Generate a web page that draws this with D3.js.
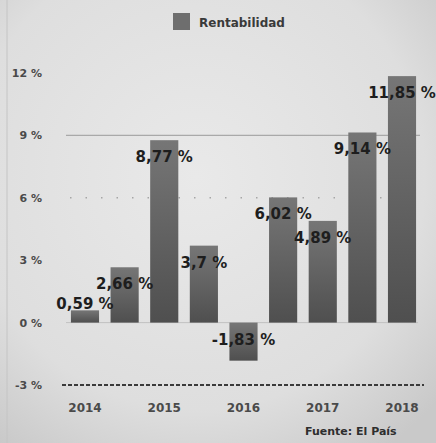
<!DOCTYPE html>
<html>
<head>
<meta charset="utf-8">
<script src="https://d3js.org/d3.v7.min.js"></script>
<style>
  body { margin: 0; background: #dedede; }
  text { font-family: "DejaVu Sans", sans-serif; }
</style>
</head>
<body>
<div id="chart"></div>
<script>

var periods = ["2014", "2014b", "2015", "2015b", "2016", "2016b", "2017", "2017b", "2018"];
var tickLabels = ["2014", "2015", "2016", "2017", "2018"];
var rentabilidad = [0.59, 2.66, 8.77, 3.7, -1.83, 6.02, 4.89, 9.14, 11.85];
var yTicks = [-3, 0, 3, 6, 9, 12];

var width = 436, height = 443;

var svg = d3.select("#chart")
  .append("svg")
    .attr("width", width)
    .attr("height", height);

var defs = svg.append("defs");
var bg = defs.append("radialGradient").attr("id", "bg")
  .attr("cx", "45%").attr("cy", "40%").attr("r", "75%");
bg.append("stop").attr("offset", "0%").attr("stop-color", "#e9e9e9");
bg.append("stop").attr("offset", "70%").attr("stop-color", "#dedede");
bg.append("stop").attr("offset", "100%").attr("stop-color", "#c9c9c9");

var barGrad = defs.append("linearGradient").attr("id", "bar")
  .attr("x1", 0).attr("y1", 0).attr("x2", 0).attr("y2", 1);
barGrad.append("stop").attr("offset", "0%").attr("stop-color", "#767676");
barGrad.append("stop").attr("offset", "100%").attr("stop-color", "#4f4f4f");

svg.append("rect")
  .attr("width", width).attr("height", height)
  .attr("fill", "url(#bg)");

// faint page edge on the left
svg.append("line")
  .attr("x1", 7).attr("x2", 7).attr("y1", 0).attr("y2", height)
  .attr("stroke", "#c4c4c4").attr("stroke-width", 1);

var x = d3.scaleBand()
  .domain(periods)
  .range([63, 424])
  .paddingInner(0.29)
  .paddingOuter(0.2);

var y = d3.scaleLinear()
  .domain([-3, 12])
  .range([385, 73]);

// gridlines
svg.append("line")
  .attr("x1", 66).attr("x2", 420)
  .attr("y1", y(9)).attr("y2", y(9))
  .attr("stroke", "#a9a9a9").attr("stroke-width", 1.2);

svg.append("line")
  .attr("x1", 70).attr("x2", 412)
  .attr("y1", y(6)).attr("y2", y(6))
  .attr("stroke", "#a6a6a6").attr("stroke-width", 1.5)
  .attr("stroke-dasharray", "1.5,14");

svg.append("line")
  .attr("x1", 66).attr("x2", 418)
  .attr("y1", y(0)).attr("y2", y(0))
  .attr("stroke", "#c2c2c2").attr("stroke-width", 1);

svg.append("line")
  .attr("x1", 62).attr("x2", 424)
  .attr("y1", y(-3)).attr("y2", y(-3))
  .attr("stroke", "#3a3a3a").attr("stroke-width", 2)
  .attr("stroke-dasharray", "4,2");

// y axis labels
svg.append("g")
  .selectAll("text")
  .data(yTicks)
  .enter()
  .append("text")
    .attr("x", 42)
    .attr("y", function(d) { return y(d) + 4; })
    .attr("text-anchor", "end")
    .style("font-size", "11px")
    .style("font-weight", "bold")
    .style("fill", "#4a4a4a")
    .text(function(d) { return d + " %"; });

// bars
svg.append("g")
  .selectAll("rect")
  .data(rentabilidad)
  .enter()
  .append("rect")
    .attr("x", function(d, i) { return x(periods[i]); })
    .attr("y", function(d) { return y(Math.max(d, 0)); })
    .attr("width", x.bandwidth())
    .attr("height", function(d) { return Math.abs(y(d) - y(0)); })
    .attr("fill", "url(#bar)");

// value labels
svg.append("g")
  .selectAll("text")
  .data(rentabilidad)
  .enter()
  .append("text")
    .attr("x", function(d, i) { return x(periods[i]) + x.bandwidth() / 2; })
    .attr("y", function(d) {
      if (d < 0) return y(0) + 22;
      if (y(0) - y(d) < 30) return y(d) - 1;
      return y(d) + 22;
    })
    .attr("text-anchor", "middle")
    .style("font-size", "15px")
    .style("font-weight", "bold")
    .style("fill", "#1e1e1e")
    .text(function(d) { return String(d).replace(".", ",") + " %"; });

// x axis labels (every other period)
svg.append("g")
  .selectAll("text")
  .data(tickLabels)
  .enter()
  .append("text")
    .attr("x", function(d) { return x(d) + x.bandwidth() / 2; })
    .attr("y", 412)
    .attr("text-anchor", "middle")
    .style("font-size", "12px")
    .style("font-weight", "bold")
    .style("fill", "#4a4a4a")
    .text(function(d) { return d; });

// legend
svg.append("rect")
  .attr("x", 173).attr("y", 13)
  .attr("width", 17).attr("height", 17)
  .attr("fill", "#6e6e6e");
svg.append("text")
  .attr("x", 199).attr("y", 27)
  .style("font-size", "12px")
  .style("font-weight", "bold")
  .style("fill", "#3a3a3a")
  .text("Rentabilidad");

// source
svg.append("text")
  .attr("x", 305).attr("y", 435)
  .style("font-size", "11px")
  .style("font-weight", "bold")
  .style("fill", "#2e2e2e")
  .text("Fuente: El País");

</script>
</body>
</html>
